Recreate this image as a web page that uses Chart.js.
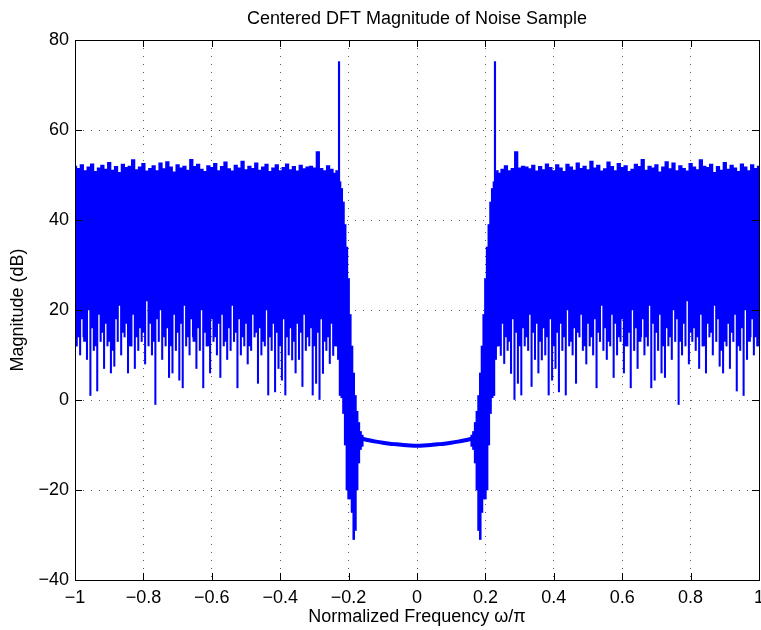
<!DOCTYPE html>
<html>
<head>
<meta charset="utf-8">
<script src="https://cdn.jsdelivr.net/npm/chart.js@4.4.1/dist/chart.umd.min.js"></script>
<style>
  body { margin: 0; background: #fff; }
  canvas { display: block; }
</style>
</head>
<body>
<canvas id="dft" width="761" height="630"></canvas>
<script>
// tick labels
const xTickLabels = ['\u22121', '\u22120.8', '\u22120.6', '\u22120.4', '\u22120.2', '0', '0.2', '0.4', '0.6', '0.8', '1'];
const yTickLabels = ['\u221240', '\u221220', '0', '20', '40', '60', '80'];

// noise band, 0.01-wide bins: left from -1.00 to -0.24, right from 0.24 to 1.00
const binStep = 0.01;
const bandTopL = [
  52.0, 51.5, 52.3, 51.0, 51.8, 52.5, 50.8, 51.6, 52.2, 51.3,
  52.8, 51.1, 51.9, 50.6, 52.4, 51.7, 52.0, 53.4, 51.2, 51.8,
  52.6, 50.9, 51.5, 52.1, 51.0, 52.7, 51.4, 53.0, 51.8, 50.7,
  52.3, 51.6, 52.0, 51.1, 53.5, 51.9, 52.4, 51.3, 50.8, 52.1,
  51.7, 52.6, 51.0, 51.9, 52.9, 51.4, 50.9, 52.2, 51.6, 53.1,
  51.2, 52.0, 51.5, 52.7, 51.1, 51.8, 52.4, 50.8, 51.6, 52.3,
  51.0, 51.7, 52.5, 51.2, 51.9, 50.9, 52.2, 51.4, 51.8, 52.0,
  51.6, 55.2, 51.5, 51.0, 52.1, 51.3, 50.4
];
const bandLowL = [
  12, 14, 18, 13, 20, 16, 12, 19, 15, 17,
  13, 11, 18, 21, 15, 17, 12, 19, 14, 16,
  15, 22, 17, 13, 18, 20, 14, 16, 12, 19,
  15, 17, 21, 14, 18, 13, 16, 20, 15, 12,
  18, 14, 17, 19, 13, 16, 21, 15, 18, 14,
  17, 12, 19, 15, 16, 13, 20, 14, 17, 15,
  12, 18, 14, 16, 13, 17, 15, 19, 14, 16,
  12, 15, 18, 13, 14, 17, 12
];
const bandTopR = [
  50.4, 51.3, 52.1, 51.0, 51.5, 55.2, 51.6,
  52.0, 51.8, 51.4, 52.2, 50.9, 51.9, 51.2, 52.5, 51.7, 51.0,
  52.3, 51.6, 50.8, 52.4, 51.8, 51.1, 52.7, 51.5, 52.0, 51.2,
  53.1, 51.6, 52.2, 50.9, 51.4, 52.9, 51.9, 51.0, 52.6, 51.7,
  52.1, 50.8, 51.3, 52.4, 51.9, 53.5, 51.1, 52.0, 51.6, 52.3,
  50.7, 51.8, 53.0, 51.4, 52.7, 51.0, 52.1, 51.5, 50.9, 52.6,
  51.8, 51.2, 53.4, 52.0, 51.7, 52.4, 50.6, 51.9, 51.1, 52.8,
  51.3, 52.2, 51.6, 50.8, 52.5, 51.8, 51.0, 52.3, 51.5, 52.0
];
const bandLowR = [
  12, 17, 14, 13, 18, 15, 12,
  16, 14, 19, 15, 17, 13, 16, 14, 18, 12,
  15, 17, 14, 20, 13, 16, 15, 19, 12, 17,
  14, 18, 15, 21, 16, 13, 19, 17, 14, 18,
  12, 15, 20, 16, 13, 18, 14, 21, 17, 15,
  19, 12, 16, 14, 20, 18, 13, 17, 22, 15,
  16, 14, 19, 12, 17, 15, 21, 18, 11, 13,
  17, 15, 19, 12, 16, 20, 13, 18, 14, 12
];

// narrow downward spikes between bins (-0.995 .. -0.245 and 0.245 .. 0.995)
const dipTop = 22;
const dipL = [
  12, 10, 14, 9, 1, 11, 2, 13, 7, 12,
  6, 7.5, 13, 10, 14, 6, 12, 7, 11, 13,
  8, 12, 10, -1, 13, 9, 12, 5, 6, 11,
  4.4, 2.7, 12, 10, 14, 7, 11, 2.7, 12, 6,
  13, 10, 5, 12, 9, 11, 13, 2.7, 10, 12,
  8, 11, 14, 3.7, 10, 12, 1.1, 11, 1.8, 7,
  4.4, 1.1, 10, 8.9, 6, 9, 3, 11, 12, 1.1,
  3.7, 0, 5.9, 11, 8.1, 9.9
];
const dipR = [
  9.9, 8.1, 11, 5.9, 0, 3.7,
  1.1, 12, 11, 3, 9, 6, 8.9, 10, 1.1, 4.4,
  7, 1.8, 11, 1.1, 12, 10, 3.7, 14, 11, 8,
  12, 10, 2.7, 13, 11, 9, 12, 5, 10, 13,
  6, 12, 2.7, 11, 7, 14, 10, 12, 2.7, 4.4,
  11, 6, 5, 12, 9, 13, -1, 10, 12, 8,
  13, 11, 7, 12, 6, 14, 10, 13, 7.5, 6,
  12, 7, 13, 2, 11, 1, 9, 14, 10, 12
];

// transition (stopband edges)
const transLX = [-0.235, -0.23, -0.225, -0.22, -0.215, -0.21, -0.205, -0.2, -0.195, -0.19, -0.185, -0.18, -0.175, -0.17, -0.165, -0.16];
const transLLow = [12, 9, 1, 0.5, -3, -10, -20, -22, -22, -25, -31, -29, -20, -14, -11, -10.3];
const transLHigh = [51, 50.5, 48.5, 47, 44, 39, 34, 27, 19, 12, 6, 1, -2.5, -5, -7, -7.8];
const transRX = [0.16, 0.165, 0.17, 0.175, 0.18, 0.185, 0.19, 0.195, 0.2, 0.205, 0.21, 0.215, 0.22, 0.225, 0.23, 0.235];
const transRLow = [-10.3, -11, -14, -20, -29, -31, -25, -22, -22, -20, -10, -3, 0.5, 1, 9, 12];
const transRHigh = [-7.8, -7, -5, -2.5, 1, 6, 12, 19, 27, 34, 39, 44, 47, 48.5, 50.5, 51];

// stopband floor
const floorX = [-0.16, -0.14, -0.12, -0.1, -0.08, -0.06, -0.04, -0.02, 0, 0.02, 0.04, 0.06, 0.08, 0.1, 0.12, 0.14, 0.16];
const floorY = [-8.6, -8.95, -9.25, -9.5, -9.7, -9.85, -10.0, -10.1, -10.15, -10.1, -10.0, -9.85, -9.7, -9.5, -9.25, -8.95, -8.6];

// tone peaks at the band edges
const peakX = [-0.228, 0.228];
const peakY = [75.2, 75.2];
const peakBase = 48;

const blue = '#0000ff';
const r3 = v => Math.round(v * 1000) / 1000;

const bandPoints = [];
bandTopL.forEach((hi, i) => bandPoints.push({ x: r3(-1 + i * binStep), y: [bandLowL[i], hi] }));
bandTopR.forEach((hi, i) => bandPoints.push({ x: r3(0.24 + i * binStep), y: [bandLowR[i], hi] }));

const dipPoints = [];
dipL.forEach((v, i) => dipPoints.push({ x: r3(-0.995 + i * binStep), y: [v, dipTop] }));
dipR.forEach((v, i) => dipPoints.push({ x: r3(0.245 + i * binStep), y: [v, dipTop] }));

const transPoints = [];
transLX.forEach((x, i) => transPoints.push({ x: x, y: [transLLow[i], transLHigh[i]] }));
transRX.forEach((x, i) => transPoints.push({ x: x, y: [transRLow[i], transRHigh[i]] }));

const floorPoints = floorX.map((x, i) => ({ x: x, y: floorY[i] }));
const peakPoints = peakX.map((x, i) => ({ x: x, y: [peakBase, peakY[i]] }));

const font = { family: "'Liberation Sans', Arial, sans-serif", size: 18 };

// box around the axes with inward tick marks, like MATLAB
const axesBox = {
  id: 'axesBox',
  afterDatasetsDraw(chart) {
    const { ctx, chartArea: a, scales } = chart;
    const len = 7;
    ctx.save();
    ctx.strokeStyle = '#000';
    ctx.lineWidth = 1;
    ctx.beginPath();
    scales.x.ticks.forEach(t => {
      const px = Math.round(scales.x.getPixelForValue(t.value)) + 0.5;
      ctx.moveTo(px, a.bottom); ctx.lineTo(px, a.bottom - len);
      ctx.moveTo(px, a.top); ctx.lineTo(px, a.top + len);
    });
    scales.y.ticks.forEach(t => {
      const py = Math.round(scales.y.getPixelForValue(t.value)) + 0.5;
      ctx.moveTo(a.left, py); ctx.lineTo(a.left + len, py);
      ctx.moveTo(a.right, py); ctx.lineTo(a.right - len, py);
    });
    ctx.stroke();
    ctx.strokeRect(Math.round(a.left) + 0.5, Math.round(a.top) + 0.5,
      Math.round(a.right - a.left), Math.round(a.bottom - a.top));
    ctx.restore();
  }
};

const barBase = { type: 'bar', backgroundColor: blue, borderWidth: 0, stack: 'all' };

new Chart(document.getElementById('dft'), {
  type: 'bar',
  data: {
    datasets: [
      Object.assign({}, barBase, { label: 'band', data: bandPoints, barThickness: 3.6 }),
      Object.assign({}, barBase, { label: 'dips', data: dipPoints, barThickness: 1.4 }),
      Object.assign({}, barBase, { label: 'edge', data: transPoints, barThickness: 1.9 }),
      Object.assign({}, barBase, { label: 'peaks', data: peakPoints, barThickness: 1.5 }),
      {
        type: 'line', label: 'floor', data: floorPoints,
        borderColor: blue, borderWidth: 4, pointRadius: 0, tension: 0.3
      }
    ]
  },
  options: {
    responsive: false,
    animation: false,
    devicePixelRatio: 1,
    layout: { padding: { top: 0, right: 2, bottom: 0, left: 0 } },
    plugins: {
      legend: { display: false },
      tooltip: { enabled: false },
      title: {
        display: true,
        fullSize: false,
        text: 'Centered DFT Magnitude of Noise Sample',
        color: '#000',
        font: Object.assign({}, font, { weight: 'normal' }),
        padding: { top: 8, bottom: 10.4 }
      }
    },
    scales: {
      x: {
        type: 'linear',
        min: -1, max: 1,
        offset: false,
        grid: { offset: false, drawTicks: false, color: 'rgba(0,0,0,0.65)', lineWidth: 1, borderDash: [1, 7] },
        border: { display: false, dash: [1, 7] },
        ticks: {
          stepSize: 0.2, autoSkip: false, maxRotation: 0, padding: 7,
          color: '#000', font: font,
          callback: (v, i) => xTickLabels[i]
        },
        title: {
          display: true, text: 'Normalized Frequency \u03c9/\u03c0',
          color: '#000', font: font, padding: { top: 0, bottom: 2 }
        },
        afterFit: s => { s.height = 50; s.paddingLeft = 0; s.paddingRight = 0; }
      },
      y: {
        min: -40, max: 80,
        stacked: false,
        grid: { drawTicks: false, color: 'rgba(0,0,0,0.65)', lineWidth: 1, borderDash: [1, 7] },
        border: { display: false, dash: [1, 7] },
        ticks: {
          stepSize: 20, padding: 6,
          color: '#000', font: font,
          callback: (v, i) => yTickLabels[i]
        },
        title: {
          display: true, text: 'Magnitude (dB)',
          color: '#000', font: font, padding: { top: 7, bottom: 0 }
        },
        afterFit: s => { s.width = 75; s.paddingTop = 0; s.paddingBottom = 0; }
      }
    }
  },
  plugins: [axesBox]
});
</script>
</body>
</html>
